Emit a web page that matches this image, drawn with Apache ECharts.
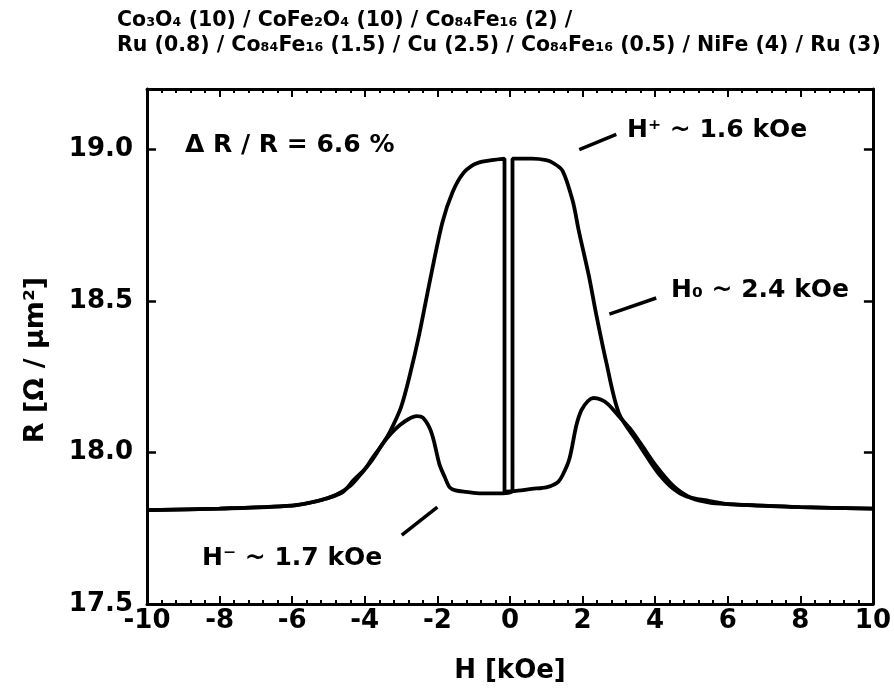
<!DOCTYPE html>
<html>
<head>
<meta charset="utf-8">
<script src="https://cdn.jsdelivr.net/npm/echarts@6/dist/echarts.min.js"></script>
<style>
  html, body { margin: 0; padding: 0; background: #fff; }
  #main { width: 894px; height: 698px; }
</style>
</head>
<body>
<div id="main"></div>
<script>
// sweep from -10 to +10 kOe
const upH = [-10, -8, -6, -5.5, -5, -4.6, -4.3, -4, -3.8, -3.5, -3.3, -3.0, -2.77, -2.5, -2.2, -1.86, -1.58, -1.3, -1.0, -0.76, -0.5, -0.15,
  -0.15, 0.3, 0.6, 1.0, 1.3, 1.45, 1.64, 1.83, 1.97, 2.15, 2.3, 2.5, 2.7, 3.0, 3.3, 3.6, 4.0, 4.5, 5.0, 5.5, 6, 7, 8, 10];
const upR = [17.81, 17.815, 17.825, 17.835, 17.85, 17.87, 17.91, 17.945, 17.98, 18.03, 18.07, 18.15, 18.25, 18.39, 18.57, 18.76, 18.86, 18.92, 18.95, 18.96, 18.965, 18.97,
  17.87, 17.875, 17.88, 17.885, 17.9, 17.925, 17.98, 18.09, 18.14, 18.17, 18.18, 18.175, 18.16, 18.12, 18.08, 18.03, 17.96, 17.89, 17.85, 17.835, 17.83, 17.825, 17.82, 17.815];

// sweep from +10 to -10 kOe
const downH = [10, 8, 6, 5.5, 4.86, 4.5, 4.1, 3.75, 3.48, 3.0, 2.65, 2.37, 2.18, 1.9, 1.73, 1.45, 1.2, 1.0, 0.6, 0.07,
  0.07, -0.29, -0.8, -1.2, -1.5, -1.66, -1.8, -1.94, -2.1, -2.21, -2.4, -2.57, -2.8, -3.04, -3.3, -3.5, -3.8, -4.1, -4.4, -4.8, -5.3, -6, -8, -10];
const downR = [17.815, 17.82, 17.83, 17.84, 17.855, 17.88, 17.93, 17.99, 18.04, 18.13, 18.30, 18.46, 18.58, 18.73, 18.83, 18.93, 18.955, 18.965, 18.97, 18.97,
  17.875, 17.865, 17.865, 17.87, 17.875, 17.885, 17.92, 17.96, 18.04, 18.08, 18.115, 18.12, 18.11, 18.09, 18.06, 18.03, 17.975, 17.93, 17.89, 17.86, 17.84, 17.825, 17.815, 17.81];

// pointer strokes next to the annotations, [H, R] ends
const pointerHplus = [[1.91, 19.0], [2.93, 19.05]];
const pointerH0 = [[2.74, 18.457], [4.03, 18.51]];
const pointerHminus = [[-2.98, 17.727], [-2.0, 17.82]];

const titleLines = [
  'Co₃O₄ (10) / CoFe₂O₄ (10) / Co₈₄Fe₁₆ (2) /',
  'Ru (0.8) / Co₈₄Fe₁₆ (1.5) / Cu (2.5) / Co₈₄Fe₁₆ (0.5) / NiFe (4) / Ru (3)'
];

const zip = (a, b) => a.map((v, i) => [v, b[i]]);
const font = '"DejaVu Sans", "Liberation Sans", sans-serif';
const lbl = { fontFamily: font, fontWeight: 'bold', fontSize: 26, color: '#000' };

const chart = echarts.init(document.getElementById('main'));

const baseX = {
  type: 'value', min: -10, max: 10, interval: 2,
  axisLine: { onZero: false, lineStyle: { color: '#000', width: 3 } },
  axisTick: { inside: true, length: 8, lineStyle: { color: '#000', width: 2 } },
  minorTick: { show: true, splitNumber: 5, length: 4, lineStyle: { color: '#000', width: 2 } },
  splitLine: { show: false }
};
const baseY = {
  type: 'value', min: 17.5, max: 19.2, interval: 0.5,
  axisLine: { show: true, onZero: false, lineStyle: { color: '#000', width: 3 } },
  axisTick: { show: true, inside: true, length: 9, lineStyle: { color: '#000', width: 2.5 } },
  splitLine: { show: false }
};

const lineStyle = { color: '#000', width: 3.8 };
const pointerLine = (pts) => ({
  silent: true, symbol: 'none', label: { show: false },
  lineStyle: { color: '#000', width: 3.5, type: 'solid' },
  data: [[{ coord: pts[0] }, { coord: pts[1] }]]
});

chart.setOption({
  backgroundColor: '#fff',
  animation: false,
  grid: { left: 147, right: 20, top: 89, bottom: 94 },
  graphic: [
    { type: 'text', left: 117, top: 10, style: { text: titleLines[0], font: 'bold 20.5px ' + font, fill: '#000' } },
    { type: 'text', left: 117, top: 35, style: { text: titleLines[1], font: 'bold 20.5px ' + font, fill: '#000' } },
    { type: 'text', left: 185, top: 133, style: { text: 'Δ R / R = 6.6 %', font: 'bold 25px ' + font, fill: '#000' } },
    { type: 'text', left: 627, top: 118, style: { text: 'H⁺ ~ 1.6 kOe', font: 'bold 25px ' + font, fill: '#000' } },
    { type: 'text', left: 671, top: 278, style: { text: 'H₀ ~ 2.4 kOe', font: 'bold 25px ' + font, fill: '#000' } },
    { type: 'text', left: 202, top: 546, style: { text: 'H⁻ ~ 1.7 kOe', font: 'bold 25px ' + font, fill: '#000' } },
    {
      type: 'text', x: 36, y: 360, rotation: Math.PI / 2,
      style: { text: 'R [Ω / μm²]', font: 'bold 27px ' + font, fill: '#000', textAlign: 'center', textVerticalAlign: 'middle' }
    }
  ],
  xAxis: [
    Object.assign({}, baseX, {
      position: 'bottom',
      name: 'H [kOe]', nameLocation: 'middle', nameGap: 54,
      nameTextStyle: lbl,
      axisLabel: Object.assign({ margin: 4, formatter: v => String(v) }, lbl)
    }),
    Object.assign({}, baseX, { position: 'top', axisLabel: { show: false } })
  ],
  yAxis: [
    Object.assign({}, baseY, {
      position: 'left',
      axisLabel: Object.assign({ margin: 14, showMaxLabel: false, formatter: v => v.toFixed(1) }, lbl)
    }),
    Object.assign({}, baseY, { position: 'right', axisLabel: { show: false } })
  ],
  series: [
    {
      type: 'line', xAxisIndex: 0, yAxisIndex: 0, showSymbol: false, smooth: 0.3,
      lineStyle: lineStyle, data: zip(upH, upR),
      markLine: pointerLine(pointerHplus)
    },
    {
      type: 'line', xAxisIndex: 0, yAxisIndex: 0, showSymbol: false, smooth: 0.3,
      lineStyle: lineStyle, data: zip(downH, downR),
      markLine: pointerLine(pointerH0)
    },
    {
      type: 'line', xAxisIndex: 0, yAxisIndex: 0, showSymbol: false,
      lineStyle: { opacity: 0 }, data: [],
      markLine: pointerLine(pointerHminus)
    }
  ]
});
</script>
</body>
</html>
